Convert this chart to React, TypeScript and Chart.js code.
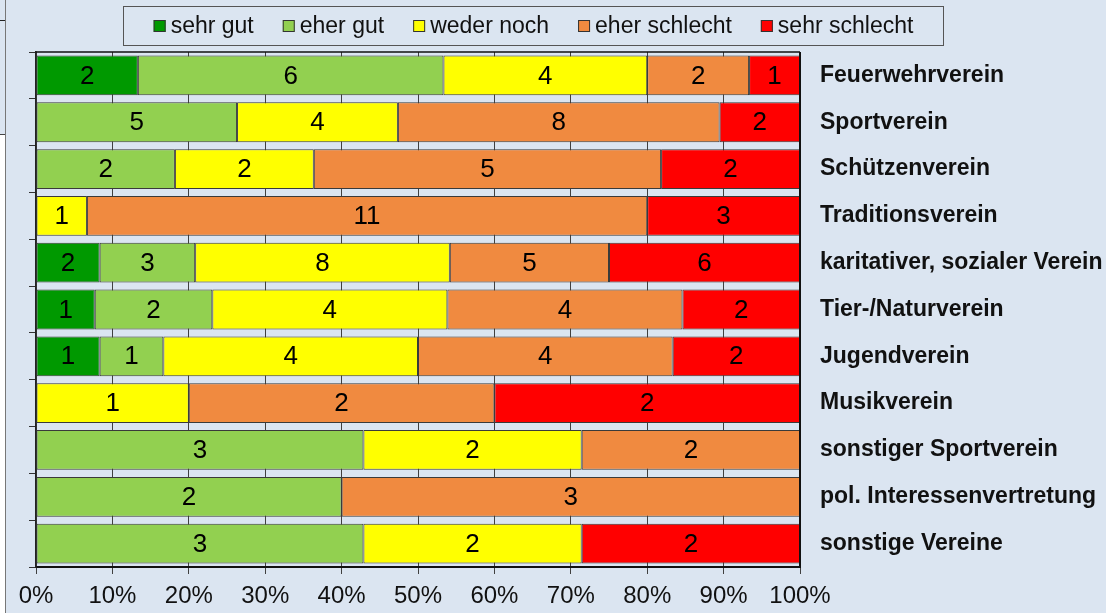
import React, { useEffect, useRef } from 'react';
import { Chart, registerables } from 'chart.js';

Chart.register(...registerables);

const categories = [
  'Feuerwehrverein',
  'Sportverein',
  'Schützenverein',
  'Traditionsverein',
  'karitativer, sozialer Verein',
  'Tier-/Naturverein',
  'Jugendverein',
  'Musikverein',
  'sonstiger Sportverein',
  'pol. Interessenvertretung',
  'sonstige Vereine',
];
const seriesNames = ['sehr gut', 'eher gut', 'weder noch', 'eher schlecht', 'sehr schlecht'];
const sehrGut = [2, 0, 0, 0, 2, 1, 1, 0, 0, 0, 0];
const eherGut = [6, 5, 2, 0, 3, 2, 1, 0, 3, 2, 3];
const wederNoch = [4, 4, 2, 1, 8, 4, 4, 1, 2, 0, 2];
const eherSchlecht = [2, 8, 5, 11, 5, 4, 4, 2, 2, 3, 0];
const sehrSchlecht = [1, 2, 2, 3, 6, 2, 2, 2, 0, 0, 2];
const xTickValues = [0, 10, 20, 30, 40, 50, 60, 70, 80, 90, 100];
const seriesColors = ['#009900', '#92d050', '#ffff00', '#f08a40', '#ff0000'];

const BG = '#dbe5f1';
const FONT = '"Liberation Sans", Arial, sans-serif';

export default function App() {
  const ref = useRef<HTMLCanvasElement>(null);

  useEffect(() => {
    if (!ref.current) return;
    const counts = [sehrGut, eherGut, wederNoch, eherSchlecht, sehrSchlecht];
    const totals = categories.map((_, i) => counts.reduce((s, arr) => s + arr[i], 0));
    const datasets = counts.map((arr, k) => ({
      label: seriesNames[k],
      data: arr.map((v, i) => (v / totals[i]) * 100),
      counts: arr,
      backgroundColor: seriesColors[k],
      borderColor: '#3a3a3a',
      borderWidth: 1,
      borderSkipped: false,
      yAxisID: 'y',
      xAxisID: 'x',
      categoryPercentage: 0.85,
      barPercentage: 1,
    }));

    const bgPlugin = {
      id: 'bg',
      beforeDraw(chart: any) {
        const { ctx, width, height } = chart;
        ctx.save();
        ctx.fillStyle = BG;
        ctx.fillRect(0, 0, width, height);
        ctx.restore();
      },
    };

    const valuePlugin = {
      id: 'values',
      afterDatasetsDraw(chart: any) {
        const { ctx, chartArea } = chart;
        ctx.save();
        ctx.strokeStyle = '#111';
        ctx.lineWidth = 1.5;
        ctx.beginPath();
        ctx.moveTo(chartArea.left, chartArea.top);
        ctx.lineTo(chartArea.right, chartArea.top);
        ctx.stroke();
        ctx.lineWidth = 2;
        ctx.beginPath();
        ctx.moveTo(chartArea.right, chartArea.top);
        ctx.lineTo(chartArea.right, chartArea.bottom);
        ctx.stroke();

        ctx.font = `26px ${FONT}`;
        ctx.fillStyle = '#000';
        ctx.textAlign = 'center';
        ctx.textBaseline = 'middle';
        chart.data.datasets.forEach((ds: any, di: number) => {
          const meta = chart.getDatasetMeta(di);
          meta.data.forEach((bar: any, i: number) => {
            const c = ds.counts[i];
            if (!c) return;
            const cx = (bar.x + bar.base) / 2;
            ctx.fillText(String(c), cx, bar.y + 1);
          });
        });
        ctx.restore();
      },
      afterDraw(chart: any) {
        const { ctx } = chart;
        ctx.save();
        ctx.font = `23px ${FONT}`;
        const sq = 12;
        const gapText = 5;
        const gapItem = 29;
        const widths = seriesNames.map((n) => ctx.measureText(n).width);
        const total = widths.reduce((s, w) => s + sq + gapText + w, 0) + gapItem * (seriesNames.length - 1);
        const boxL = 123.5;
        const boxR = 943.5;
        const boxT = 6.5;
        const boxB = 45.5;
        ctx.strokeStyle = '#555';
        ctx.lineWidth = 1;
        ctx.strokeRect(boxL, boxT, boxR - boxL, boxB - boxT);
        let x = (boxL + boxR) / 2 - total / 2;
        const cy = 26;
        seriesNames.forEach((n, k) => {
          ctx.fillStyle = seriesColors[k];
          ctx.fillRect(x, cy - 6, sq, sq);
          ctx.strokeStyle = '#333';
          ctx.strokeRect(x + 0.5, cy - 5.5, sq - 1, sq - 1);
          ctx.fillStyle = '#111';
          ctx.textAlign = 'left';
          ctx.textBaseline = 'middle';
          ctx.fillText(n, x + sq + gapText, cy + 1);
          x += sq + gapText + widths[k] + gapItem;
        });
        ctx.restore();
      },
    };

    const chart = new Chart(ref.current, {
      type: 'bar',
      data: { labels: categories, datasets: datasets as any },
      plugins: [bgPlugin, valuePlugin],
      options: {
        indexAxis: 'y',
        animation: false,
        responsive: false,
        maintainAspectRatio: false,
        layout: { padding: { top: 52, left: 0, right: 0, bottom: 0 } },
        plugins: {
          legend: { display: false },
          tooltip: { enabled: false },
        },
        scales: {
          x: {
            type: 'linear',
            position: 'bottom',
            stacked: true,
            min: 0,
            max: 100,
            afterBuildTicks(scale: any) {
              scale.ticks = xTickValues.map((v) => ({ value: v }));
            },
            afterFit(scale: any) {
              scale.height = 46;
            },
            ticks: {
              callback: (v: any) => `${v}%`,
              color: '#111',
              font: { family: FONT, size: 24 },
              padding: 8,
              maxRotation: 0,
              autoSkip: false,
            },
            grid: {
              color: '#404040',
              lineWidth: 1,
              tickLength: 7,
              drawTicks: true,
            },
            border: { display: true, color: '#111', width: 2 },
          },
          yL: {
            type: 'category',
            position: 'left',
            offset: true,
            afterFit(scale: any) {
              scale.width = 36;
            },
            ticks: { display: false },
            grid: {
              offset: true,
              drawOnChartArea: false,
              drawTicks: true,
              tickLength: 7,
              color: '#333',
              lineWidth: 1,
            },
            border: { display: true, color: '#222', width: 1.5 },
          },
          y: {
            type: 'category',
            position: 'right',
            stacked: true,
            offset: true,
            afterFit(scale: any) {
              scale.width = 306;
            },
            ticks: {
              color: '#111',
              font: { family: FONT, size: 23, weight: 'bold' },
              padding: 20,
              autoSkip: false,
            },
            grid: { display: false, drawTicks: false },
            border: { display: false },
          },
        },
      } as any,
    });
    return () => chart.destroy();
  }, []);

  return (
    <div style={{ position: 'absolute', left: 0, top: 0, width: 1106, height: 613, overflow: 'hidden', background: BG }}>
      <canvas ref={ref} width={1106} height={613} style={{ display: 'block', width: 1106, height: 613 }} />
      <div style={{ position: 'absolute', left: 0, top: 135, width: 5, height: 478, background: '#fff' }} />
      <div style={{ position: 'absolute', left: 0, top: 20, width: 5, height: 1, background: '#222' }} />
      <div style={{ position: 'absolute', left: 0, top: 134, width: 5, height: 1, background: '#444' }} />
      <div style={{ position: 'absolute', left: 5, top: 0, width: 1, height: 613, background: '#777' }} />
    </div>
  );
}
